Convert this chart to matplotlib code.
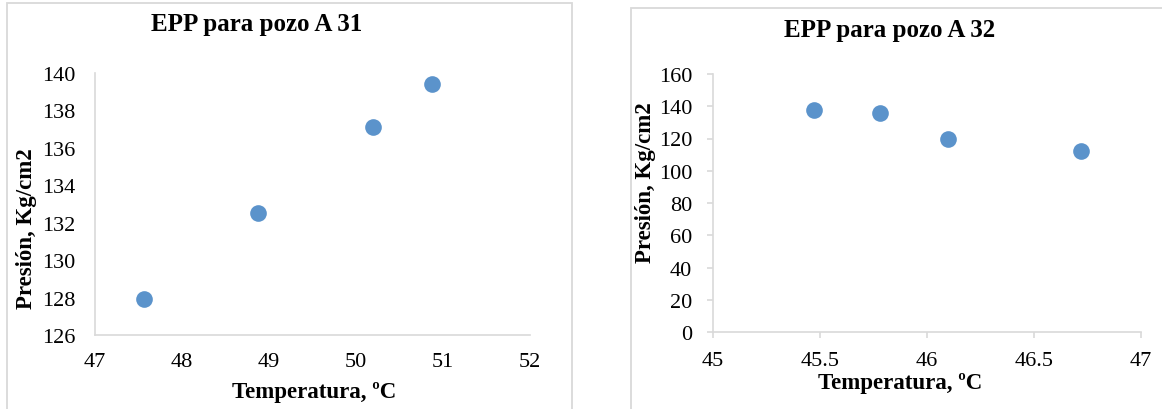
import matplotlib
matplotlib.use("Agg")
import matplotlib.pyplot as plt
from matplotlib.patches import Rectangle

# ---- data ----
temp_a31 = [47.56, 48.87, 50.19, 50.87]
pres_a31 = [127.95, 132.5, 137.1, 139.4]
temp_a32 = [45.47, 45.78, 46.10, 46.72]
pres_a32 = [137.7, 135.8, 119.7, 112.2]

xticks_a31 = [47, 48, 49, 50, 51, 52]
yticks_a31 = [126, 128, 130, 132, 134, 136, 138, 140]
xticks_a32 = [45, 45.5, 46, 46.5, 47]
xticklabels_a32 = ["45", "45.5", "46", "46.5", "47"]
yticks_a32 = [0, 20, 40, 60, 80, 100, 120, 140, 160]

title_a31 = "EPP para pozo A 31"
title_a32 = "EPP para pozo A 32"
xlabel = "Temperatura, ºC"
ylabel = "Presión, Kg/cm2"

W, H = 1162, 410
FONT = "Liberation Serif"
MARKER = "#5B93CB"
GRID = "#d9d9d9"

plt.rcParams['font.family'] = [FONT, 'DejaVu Serif']

fig = plt.figure(figsize=(W / 100, H / 100), dpi=100)


def fx(x):
    return x / W


def fy(y):
    return 1 - y / H


def axes_px(x0, x1, ytop, ybot):
    return [fx(x0), fy(ybot), (x1 - x0) / W, (ybot - ytop) / H]


# chart borders
fig.patches.append(Rectangle((fx(7), fy(420)), (572 - 7) / W, (420 - 4) / H,
                             transform=fig.transFigure, fill=False,
                             edgecolor=GRID, linewidth=1.3))
fig.patches.append(Rectangle((fx(631), fy(420)), (1180 - 631) / W, (420 - 9) / H,
                             transform=fig.transFigure, fill=False,
                             edgecolor=GRID, linewidth=1.3))

TICK_FS = 16
LABEL_FS = 16.5
TITLE_FS = 18

# ---- left chart ----
ax1 = fig.add_axes(axes_px(95, 530, 74, 336))
ax1.plot(temp_a31, pres_a31, 'o', color=MARKER, markersize=12, markeredgewidth=0)
ax1.set_xlim(47, 52)
ax1.set_ylim(126, 140)
ax1.set_xticks(xticks_a31)
ax1.set_yticks(yticks_a31)
ax1.tick_params(axis='both', length=0, labelsize=TICK_FS, colors='black')
ax1.tick_params(axis='y', pad=14)
ax1.tick_params(axis='x', pad=12)
for s in ['top', 'right']:
    ax1.spines[s].set_visible(False)
for s in ['left', 'bottom']:
    ax1.spines[s].set_color(GRID)
    ax1.spines[s].set_linewidth(1.2)
ax1.patch.set_alpha(0)

fig.text(fx(257), fy(25), title_a31, ha='center', va='center',
         fontsize=TITLE_FS, fontweight='bold')
fig.text(fx(314), fy(393), xlabel, ha='center', va='center',
         fontsize=LABEL_FS, fontweight='bold')
fig.text(fx(27), fy(229), ylabel, ha='center', va='center', rotation=90,
         fontsize=LABEL_FS, fontweight='bold')

# ---- right chart ----
ax2 = fig.add_axes(axes_px(713, 1141, 75, 333))
ax2.plot(temp_a32, pres_a32, 'o', color=MARKER, markersize=12, markeredgewidth=0)
ax2.set_xlim(45, 47)
ax2.set_ylim(0, 160)
ax2.set_xticks(xticks_a32)
ax2.set_xticklabels(xticklabels_a32)
ax2.set_yticks(yticks_a32)
ax2.tick_params(axis='both', direction='out', length=4, width=1.2, color=GRID,
                labelsize=TICK_FS, labelcolor='black')
ax2.tick_params(axis='y', pad=11)
ax2.tick_params(axis='x', pad=10)
for s in ['top', 'right']:
    ax2.spines[s].set_visible(False)
for s in ['left', 'bottom']:
    ax2.spines[s].set_color(GRID)
    ax2.spines[s].set_linewidth(1.2)
ax2.patch.set_alpha(0)

fig.text(fx(890), fy(30), title_a32, ha='center', va='center',
         fontsize=TITLE_FS, fontweight='bold')
fig.text(fx(900), fy(384), xlabel, ha='center', va='center',
         fontsize=LABEL_FS, fontweight='bold')
fig.text(fx(646), fy(183), ylabel, ha='center', va='center', rotation=90,
         fontsize=LABEL_FS, fontweight='bold')

fig.savefig("out.png", dpi=100, facecolor='white')
